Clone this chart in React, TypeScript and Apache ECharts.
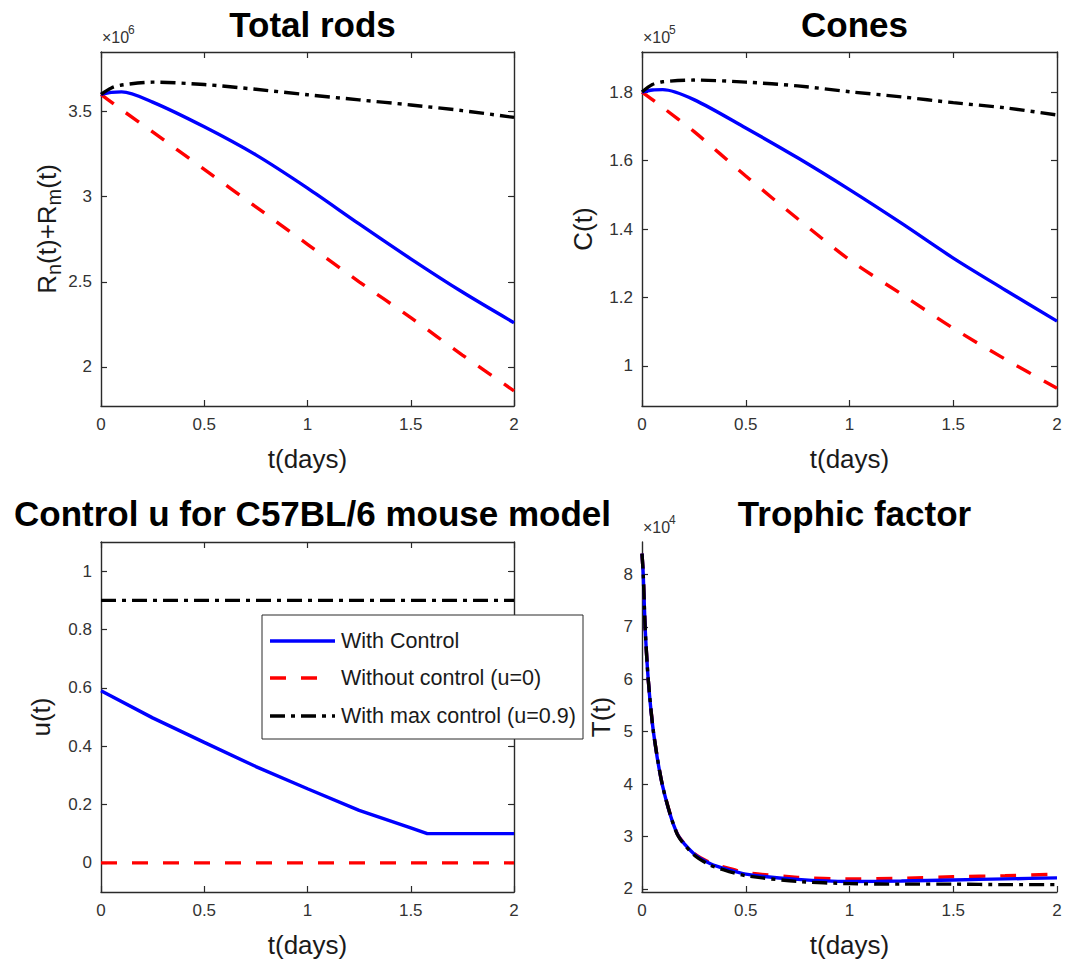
import React, { useEffect, useRef } from "react";
import * as echarts from "echarts";

// ---------- data ----------
const tDays = [0, 0.05, 0.1, 0.25, 0.5, 0.75, 1, 1.25, 1.5, 1.75, 2];
const rodsWithControl = [3.6, 3.612, 3.615, 3.555, 3.41, 3.245, 3.05, 2.84, 2.635, 2.44, 2.26];
const rodsNoControl = [3.6, 3.555, 3.51, 3.38, 3.16, 2.94, 2.72, 2.5, 2.29, 2.07, 1.86];
const rodsMaxControl = [3.6, 3.638, 3.655, 3.672, 3.658, 3.63, 3.598, 3.568, 3.538, 3.505, 3.465];

const conesWithControl = [1.8, 1.806, 1.807, 1.778, 1.695, 1.608, 1.515, 1.417, 1.315, 1.222, 1.131];
const conesNoControl = [1.8, 1.778, 1.755, 1.685, 1.555, 1.43, 1.31, 1.21, 1.11, 1.02, 0.935];
const conesMaxControl = [1.8, 1.822, 1.83, 1.835, 1.829, 1.818, 1.801, 1.786, 1.769, 1.754, 1.733];

const tControl = [0, 0.25, 0.5, 0.75, 1, 1.25, 1.5, 1.58, 2];
const uWithControl = [0.59, 0.497, 0.413, 0.33, 0.254, 0.18, 0.12, 0.1, 0.1];
const tConst = [0, 2];
const uNoControl = [0, 0];
const uMaxControl = [0.9, 0.9];

const tTrophic = [0, 0.006, 0.015, 0.03, 0.055, 0.1, 0.17, 0.25, 0.33, 0.42, 0.5, 0.75, 1, 1.25, 1.5, 1.75, 2];
const trophicWithControl = [8.4, 8.0, 7.0, 6.0, 5.0, 3.95, 3.05, 2.67, 2.48, 2.36, 2.28, 2.18, 2.14, 2.15, 2.17, 2.19, 2.21];
const trophicNoControl = [8.4, 8.0, 7.0, 6.0, 5.0, 3.95, 3.05, 2.68, 2.5, 2.39, 2.31, 2.22, 2.19, 2.2, 2.23, 2.25, 2.28];
const trophicMaxControl = [8.4, 8.0, 7.0, 6.0, 5.0, 3.95, 3.04, 2.65, 2.45, 2.33, 2.25, 2.14, 2.1, 2.09, 2.09, 2.08, 2.08];

const rodsTicks = [2, 2.5, 3, 3.5];
const conesTicks = [1, 1.2, 1.4, 1.6, 1.8];
const controlTicks = [0, 0.2, 0.4, 0.6, 0.8, 1];
const trophicTicks = [2, 3, 4, 5, 6, 7, 8];

const NAMES = ["With Control", "Without control (u=0)", "With max control (u=0.9)"];
const titles = ["Total rods", "Cones", "Control u for C57BL/6 mouse model", "Trophic factor"];
const multipliers = ["6", "5", "", "4"];

// ---------- styles ----------
const FONT = "'Liberation Sans', Arial, Helvetica, sans-serif";
const AX = "#2a2a2a";
const LBL = "#333333";
const BLUE = "#0000ff";
const RED = "#ff0000";
const BLACK = "#000000";
const LW = 3.4;
const DASH = [16, 15];
const DASHDOT = [15, 6, 4, 6];

const grids = [
  { left: 101, top: 52, width: 413, height: 354 },
  { left: 642, top: 52, width: 415, height: 354 },
  { left: 101, top: 542, width: 413, height: 350 },
  { left: 642, top: 542, width: 415, height: 350 },
];

const yRanges = [
  { min: 1.771, max: 3.849, ticks: rodsTicks },
  { min: 0.883, max: 1.917, ticks: conesTicks },
  { min: -0.1, max: 1.1, ticks: controlTicks },
  { min: 1.94, max: 8.62, ticks: trophicTicks },
];

const yNames = [
  "{a|R}{s|n}{a|(t)+R}{s|m}{a|(t)}",
  "{a|C(t)}",
  "{a|u(t)}",
  "{a|T(t)}",
];
const yNameGaps = [36, 42, 43, 24];

function pairs(xs: number[], ys: number[]) {
  return xs.map((x, i) => [x, ys[i]]);
}

export default function App() {
  const ref = useRef<HTMLDivElement>(null);

  useEffect(() => {
    document.body.style.margin = "0";
    if (!ref.current) return;
    const chart = echarts.init(ref.current, undefined, { renderer: "svg" });

    const xAxis: any[] = [];
    const yAxis: any[] = [];
    const axisLine = { show: true, onZero: false, lineStyle: { color: AX, width: 1.4 } };
    const axisTick = { show: true, inside: true, length: 6, lineStyle: { color: AX, width: 1.2 } };

    grids.forEach((_, i) => {
      const box = i !== 3;
      xAxis.push({
        gridIndex: i,
        type: "value",
        min: 0,
        max: 2,
        interval: 0.5,
        position: "bottom",
        axisLine,
        axisTick,
        splitLine: { show: false },
        axisLabel: { fontSize: 17, color: LBL, margin: 10, fontFamily: FONT },
        name: "t(days)",
        nameLocation: "middle",
        nameGap: 40,
        nameTextStyle: { fontSize: 26, color: "#1a1a1a", fontFamily: FONT },
      });
      xAxis.push({
        gridIndex: i,
        type: "value",
        min: 0,
        max: 2,
        interval: 0.5,
        position: "top",
        show: box,
        axisLine,
        axisTick,
        splitLine: { show: false },
        axisLabel: { show: false },
      });
      const yr = yRanges[i];
      yAxis.push({
        gridIndex: i,
        type: "value",
        min: yr.min,
        max: yr.max,
        position: "left",
        axisLine,
        axisTick: { ...axisTick, customValues: yr.ticks },
        splitLine: { show: false },
        axisLabel: { fontSize: 17, color: LBL, margin: 9, fontFamily: FONT, customValues: yr.ticks },
        name: yNames[i],
        nameLocation: "middle",
        nameGap: yNameGaps[i],
        nameRotate: 90,
        nameTextStyle: {
          fontFamily: FONT,
          color: "#1a1a1a",
          rich: {
            a: { fontSize: 26, color: "#1a1a1a", fontFamily: FONT, lineHeight: 30, verticalAlign: "top" },
            s: {
              fontSize: 20,
              color: "#1a1a1a",
              fontFamily: FONT,
              lineHeight: 20,
              verticalAlign: "bottom",
              padding: [22, 0, 0, 0],
            },
          },
        },
      });
      yAxis.push({
        gridIndex: i,
        type: "value",
        min: yr.min,
        max: yr.max,
        position: "right",
        show: box,
        axisLine,
        axisTick: { ...axisTick, customValues: yr.ticks },
        splitLine: { show: false },
        axisLabel: { show: false, customValues: yr.ticks },
      });
    });

    const panels = [
      { c: rodsWithControl, n: rodsNoControl, m: rodsMaxControl, tc: tDays, tn: tDays, smooth: 0.3 },
      { c: conesWithControl, n: conesNoControl, m: conesMaxControl, tc: tDays, tn: tDays, smooth: 0.3 },
      { c: uWithControl, n: uNoControl, m: uMaxControl, tc: tControl, tn: tConst, smooth: 0 },
      { c: trophicWithControl, n: trophicNoControl, m: trophicMaxControl, tc: tTrophic, tn: tTrophic, smooth: 0.25 },
    ];

    const series: any[] = [];
    panels.forEach((p, i) => {
      const base = {
        type: "line",
        xAxisIndex: i * 2,
        yAxisIndex: i * 2,
        symbol: "none",
        showSymbol: false,
        smooth: p.smooth ? p.smooth : false,
        clip: true,
      };
      series.push({
        ...base,
        name: NAMES[1],
        data: pairs(p.tn, p.n),
        lineStyle: { color: RED, width: LW, type: DASH, cap: "butt" },
        itemStyle: { color: RED },
      });
      series.push({
        ...base,
        name: NAMES[0],
        data: pairs(p.tc, p.c),
        lineStyle: { color: BLUE, width: LW, type: "solid" },
        itemStyle: { color: BLUE },
      });
      series.push({
        ...base,
        name: NAMES[2],
        data: pairs(p.tn, p.m),
        lineStyle: { color: BLACK, width: LW, type: DASHDOT, cap: "butt" },
        itemStyle: { color: BLACK },
      });
    });

    const graphic: any[] = [];
    multipliers.forEach((m, i) => {
      if (!m) return;
      const g = grids[i];
      graphic.push({
        type: "text",
        x: g.left + 1,
        y: g.top - 15,
        style: { text: "×10", font: `16px ${FONT}`, fill: LBL, textVerticalAlign: "middle" },
      });
      graphic.push({
        type: "text",
        x: g.left + 27,
        y: g.top - 22,
        style: { text: m, font: `12px ${FONT}`, fill: LBL, textVerticalAlign: "middle" },
      });
    });

    // legend (drawn as a box with line samples)
    const lgX = 262;
    const lgY = 615;
    const rows = [641, 678, 716];
    const LZ = 100;
    graphic.push({
      type: "rect",
      z: LZ,
      shape: { x: lgX, y: lgY, width: 321, height: 124 },
      style: { fill: "#ffffff", stroke: AX, lineWidth: 1 },
    });
    graphic.push({
      type: "line",
      z: LZ + 1,
      shape: { x1: 270, y1: rows[0], x2: 335, y2: rows[0] },
      style: { stroke: BLUE, lineWidth: LW },
    });
    graphic.push({
      type: "line",
      z: LZ + 1,
      shape: { x1: 270, y1: rows[1], x2: 319, y2: rows[1] },
      style: { stroke: RED, lineWidth: LW, lineDash: DASH },
    });
    graphic.push({
      type: "line",
      z: LZ + 1,
      shape: { x1: 270, y1: rows[2], x2: 335, y2: rows[2] },
      style: { stroke: BLACK, lineWidth: LW, lineDash: DASHDOT },
    });
    NAMES.forEach((n, k) => {
      graphic.push({
        type: "text",
        z: LZ + 1,
        x: 341,
        y: rows[k],
        style: { text: n, font: `21.5px ${FONT}`, fill: "#1a1a1a", textVerticalAlign: "middle" },
      });
    });

    const titleCfg = titles.map((t, i) => ({
      text: t,
      left: grids[i].left + grids[i].width / 2,
      top: i < 2 ? 2 : 491,
      textAlign: "center",
      textStyle: { fontSize: 35, fontWeight: "bold", color: "#000", fontFamily: FONT },
    }));

    chart.setOption({
      animation: false,
      backgroundColor: "#ffffff",
      textStyle: { fontFamily: FONT },
      title: titleCfg,
      grid: grids.map((g) => ({ ...g, containLabel: false })),
      xAxis,
      yAxis,
      graphic,
      series,
    });

    return () => chart.dispose();
  }, []);

  return <div ref={ref} style={{ width: 1065, height: 964 }} />;
}
